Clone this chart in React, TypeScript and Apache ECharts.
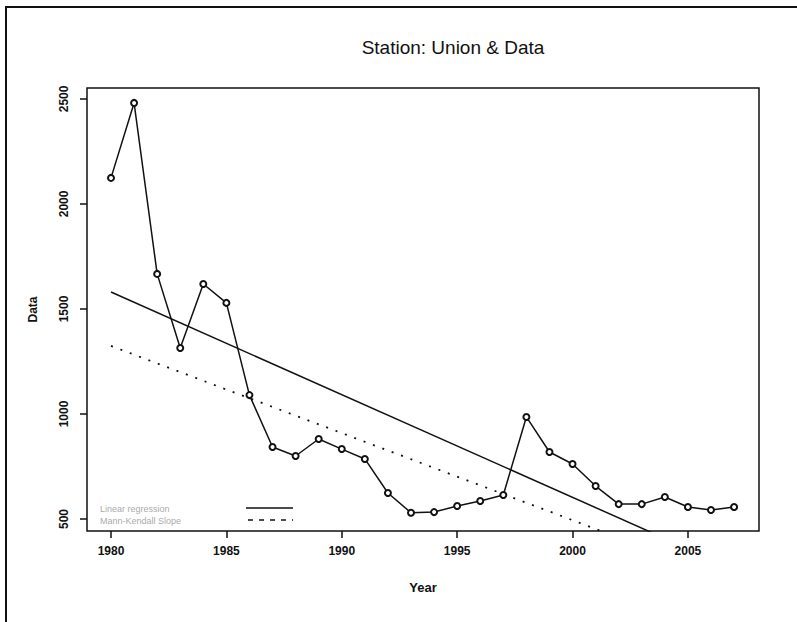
import React, { useEffect, useRef } from "react";
import * as echarts from "echarts";

const years = [1980, 1981, 1982, 1983, 1984, 1985, 1986, 1987, 1988, 1989, 1990, 1991, 1992, 1993, 1994, 1995, 1996, 1997, 1998, 1999, 2000, 2001, 2002, 2003, 2004, 2005, 2006, 2007];
const values = [2124, 2481, 1667, 1314, 1619, 1529, 1090, 843, 800, 881, 833, 786, 624, 530, 533, 562, 586, 614, 986, 819, 762, 657, 571, 571, 605, 557, 543, 557];
const regYears = [1980, 2007];
const regValues = [1581, 261];
const mkYears = [1980, 2007];
const mkValues = [1324, 204];
const xTicks = [1980, 1985, 1990, 1995, 2000, 2005];
const yTicks = [500, 1000, 1500, 2000, 2500];
const legendLabels = ["Linear regression", "Mann-Kendall Slope"];

export default function App() {
  const ref = useRef<HTMLDivElement>(null);
  useEffect(() => {
    if (!ref.current) return;
    const chart = echarts.init(ref.current, null, { renderer: "svg" });
    const pair = (xs: number[], ys: number[]) => xs.map((x, i) => [x, ys[i]]);
    chart.setOption({
      animation: false,
      backgroundColor: "#fff",
      title: {
        text: "Station: Union & Data",
        left: 448,
        top: 33,
        textAlign: "center",
        textStyle: { fontFamily: "Liberation Sans, Arial", fontSize: 19, fontWeight: "normal", color: "#111" },
      },
      grid: { left: 87, top: 88, right: 38, bottom: 91, show: true, borderColor: "#111", borderWidth: 1.5, backgroundColor: "transparent" },
      xAxis: {
        type: "value",
        min: 1978.96,
        max: 2008.08,
        name: "Year",
        nameLocation: "middle",
        nameGap: 50,
        nameTextStyle: { fontFamily: "Liberation Sans, Arial", fontWeight: "bold", fontSize: 13, color: "#111" },
        axisLine: { show: false },
        splitLine: { show: false },
        axisTick: { show: true, length: 7, inside: false, customValues: xTicks, lineStyle: { color: "#111", width: 1.5 } },
        axisLabel: { customValues: xTicks, margin: 14, fontFamily: "Liberation Sans, Arial", fontWeight: "bold", fontSize: 12, color: "#111", formatter: (v: number) => String(Math.round(v)) },
      },
      yAxis: {
        type: "value",
        min: 443,
        max: 2552,
        name: "Data",
        nameLocation: "middle",
        nameGap: 48,
        nameRotate: 90,
        nameTextStyle: { fontFamily: "Liberation Sans, Arial", fontWeight: "bold", fontSize: 12, color: "#111" },
        axisLine: { show: false },
        splitLine: { show: false },
        axisTick: { show: true, length: 7, inside: false, customValues: yTicks, lineStyle: { color: "#111", width: 1.5 } },
        axisLabel: { customValues: yTicks, rotate: 90, margin: 17, fontFamily: "Liberation Sans, Arial", fontWeight: "bold", fontSize: 12, color: "#111", formatter: (v: number) => String(Math.round(v)) },
      },
      series: [
        {
          type: "line",
          data: pair(years, values),
          symbol: "emptyCircle",
          symbolSize: 6,
          lineStyle: { color: "#111", width: 1.5 },
          itemStyle: { color: "#111", borderColor: "#111", borderWidth: 1.2 },
          clip: true,
        },
        {
          type: "line",
          data: pair(regYears, regValues),
          symbol: "none",
          lineStyle: { color: "#111", width: 1.5 },
          clip: true,
        },
        {
          type: "line",
          data: pair(mkYears, mkValues),
          symbol: "none",
          lineStyle: { color: "#111", width: 1.8, type: [2, 8] },
          clip: true,
        },
      ],
      graphic: [
        { type: "rect", shape: { x: 6, y: 7, width: 900, height: 800 }, style: { fill: "none", stroke: "#111", lineWidth: 2 }, silent: true },
        { type: "text", x: 100, y: 509, style: { text: legendLabels[0], fill: "#aaa", fontSize: 9, fontFamily: "Liberation Sans, Arial", verticalAlign: "middle" } },
        { type: "text", x: 100, y: 521, style: { text: legendLabels[1], fill: "#aaa", fontSize: 9, fontFamily: "Liberation Sans, Arial", verticalAlign: "middle" } },
        { type: "line", shape: { x1: 246, y1: 508, x2: 293, y2: 508 }, style: { stroke: "#111", lineWidth: 1.5 } },
        { type: "line", shape: { x1: 248, y1: 520, x2: 293, y2: 520 }, style: { stroke: "#111", lineWidth: 1.5, lineDash: [5, 6] } },
      ],
    });
    return () => chart.dispose();
  }, []);
  return <div ref={ref} style={{ position: "absolute", left: 0, top: 0, width: 797, height: 622 }} />;
}
